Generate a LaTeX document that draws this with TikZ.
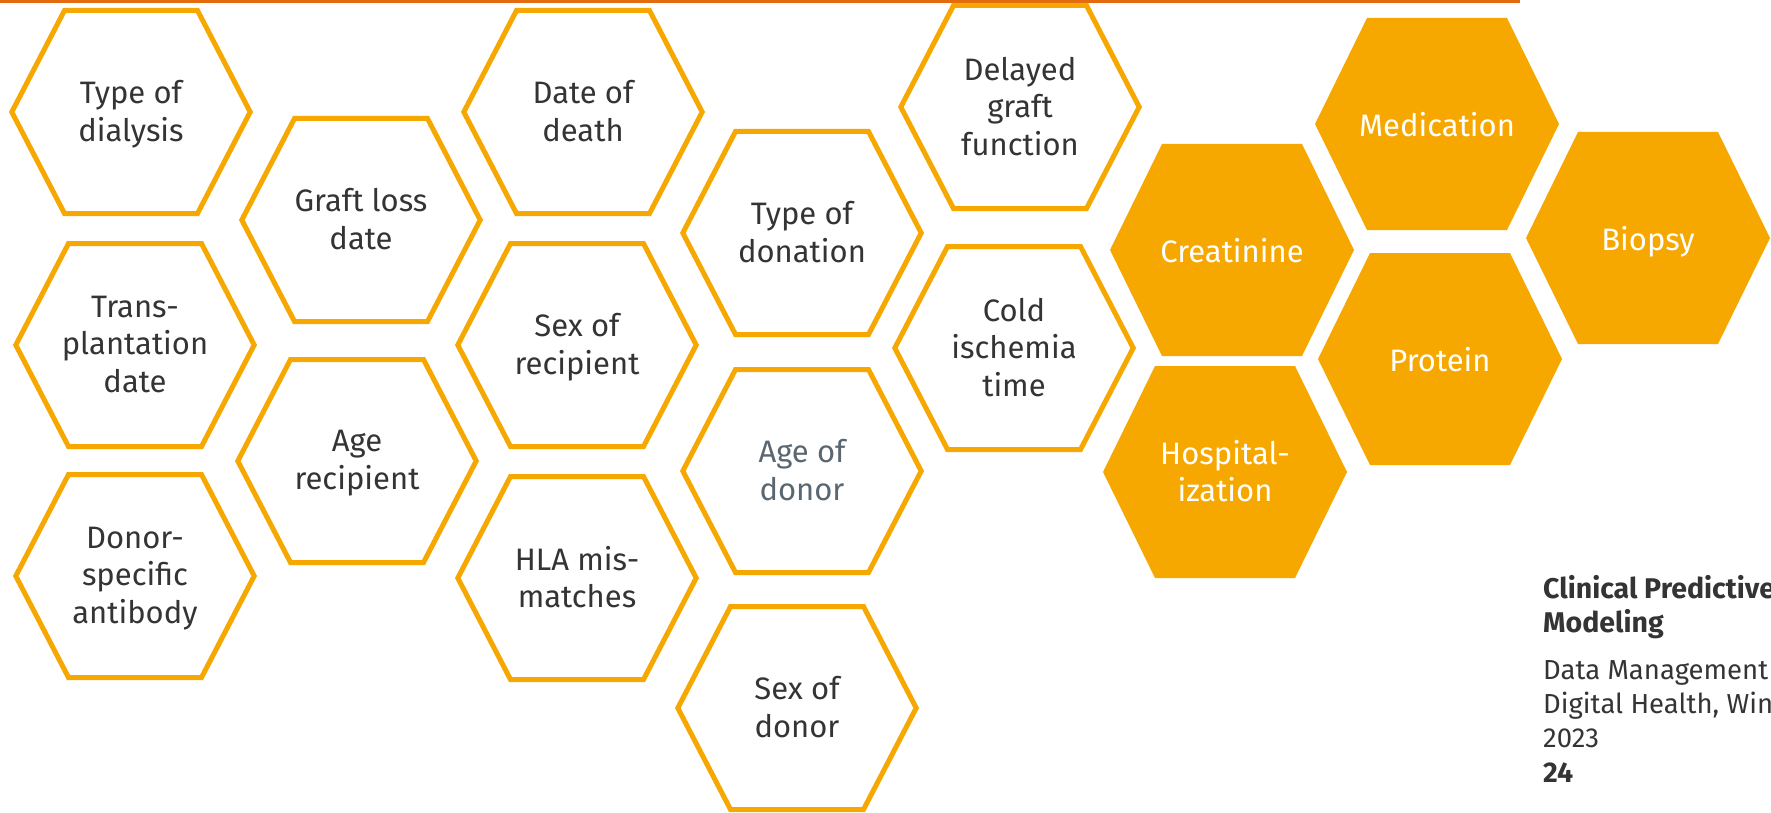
\documentclass[tikz,border=0pt]{standalone}
\usepackage{fontspec}
\setmainfont{Fira Sans}
\definecolor{hexorange}{RGB}{246,168,0}
\definecolor{topbar}{RGB}{227,106,14}
\definecolor{ink}{RGB}{52,52,52}
\definecolor{inkgray}{RGB}{90,102,112}

% outlined cell: name, centre, text options, text
\newcommand\outlinecell[4]{%
  \coordinate (#1) at (#2);
  \draw[outlinehex] ([xshift=-119.2pt]#1) -- ++(52.7,-101.5) -- ++(133,0)
    -- ++(52.7,101.5) -- ++(-52.7,101.5) -- ++(-133,0) -- cycle;
  \node[celltext,#3] (#1-text) at (#1) {#4};
}
% filled cell: name, centre, text
\newcommand\solidcell[3]{%
  \coordinate (#1) at (#2);
  \fill[solidhex] ([xshift=-122pt]#1) -- ++(52,-106) -- ++(140,0)
    -- ++(52,106) -- ++(-52,106) -- ++(-140,0) -- cycle;
  \node[celltext,text=white] (#1-text) at (#1) {#3};
}

\begin{document}
\begin{tikzpicture}[x=1pt,y=-1pt,
  celltext/.style={align=center, font=\fontsize{31}{37.5}\selectfont,
    text=ink, inner sep=0pt, yshift=-4.6pt,
    execute at begin node=\strut, execute at end node=\strut},
  outlinehex/.style={draw=hexorange, line width=5pt},
  solidhex/.style={fill=hexorange},
  footline/.style={anchor=base west, inner sep=0pt, text=ink,
    font=\fontsize{27.5}{34}\selectfont},
  footbold/.style={footline, font=\fontsize{28.5}{34}\selectfont\bfseries}]
\useasboundingbox (0,0) rectangle (1771,813);
\fill[white] (0,0) rectangle (1771,813);

% rule along the top edge
\fill[topbar] (0,0) rectangle (1520,3.5);

% outlined cells
\outlinecell{dialysis}{131,112}{}{Type of\\dialysis}
\outlinecell{txdate}{135,345}{}{Trans-\\plantation\\date}
\outlinecell{dsa}{135,576}{}{Donor-\\specific\\antibody}
\outlinecell{graftloss}{361,220}{}{Graft loss\\date}
\outlinecell{agerec}{357,461}{}{Age\\recipient}
\outlinecell{death}{583,112}{}{Date of\\death}
\outlinecell{sexrec}{577,345}{}{Sex of\\recipient}
\outlinecell{hla}{577,578}{}{HLA mis-\\matches}
\outlinecell{donation}{802,233}{}{Type of\\donation}
\outlinecell{agedonor}{802,471}{text=inkgray}{Age of\\donor}
\outlinecell{sexdonor}{797,708}{}{Sex of\\donor}
\outlinecell{dgf}{1020,107}{}{Delayed\\graft\\function}
\outlinecell{cit}{1014,348}{}{Cold\\ischemia\\time}

% filled cells
\solidcell{creatinine}{1232,250}{Creatinine}
\solidcell{hospital}{1225,472}{Hospital-\\ization}
\solidcell{medication}{1437,124}{Medication}
\solidcell{protein}{1440,359}{Protein}
\solidcell{biopsy}{1648,238}{Biopsy}

% footer
\node[footbold] (course1) at (1543,598) {Clinical Predictive};
\node[footbold] (course2) at (1543,632) {Modeling};
\node[footline] (lecture1) at (1543,679) {Data Management};
\node[footline] (lecture2) at (1543,713) {Digital Health, Win};
\node[footline] (lecture3) at (1543,747) {2023};
\node[footbold] (pageno) at (1543,782) {24};
\end{tikzpicture}
\end{document}
